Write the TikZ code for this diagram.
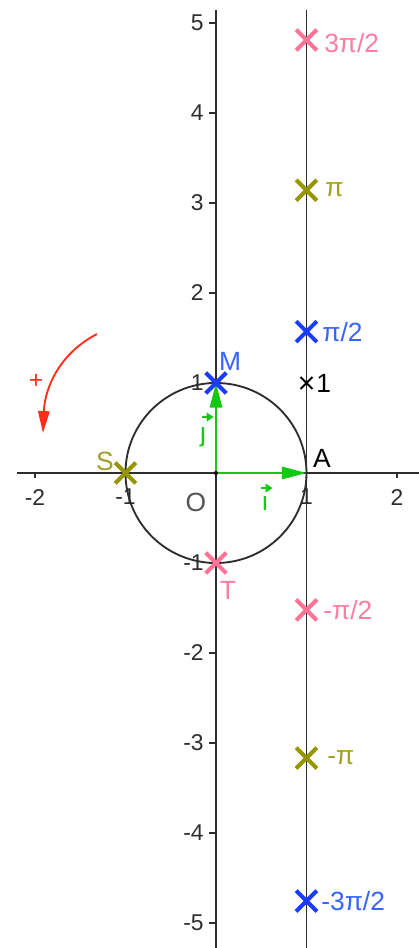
\documentclass[tikz,border=0pt]{standalone}
\usepackage{fontspec}
\setmainfont{Liberation Sans}
\usetikzlibrary{shapes.misc,arrows.meta}
\definecolor{axisc}{RGB}{45,45,45}
\definecolor{xblue}{RGB}{25,60,255}
\definecolor{lblue}{RGB}{55,100,255}
\definecolor{xpink}{RGB}{255,115,150}
\definecolor{lpink}{RGB}{255,125,160}
\definecolor{xolive}{RGB}{150,150,0}
\definecolor{lolive}{RGB}{160,160,40}
\definecolor{vgreen}{RGB}{20,200,20}
\definecolor{rred}{RGB}{255,45,25}
\definecolor{ogray}{RGB}{85,85,85}
\begin{document}
\begin{tikzpicture}[x=1.81cm,y=1.8cm,
  axis/.style={draw=axisc,line width=0.95pt},
  num/.style={font=\fontsize{13}{15}\selectfont, text=axisc, inner sep=0pt},
  lab/.style={font=\fontsize{15}{18}\selectfont, inner sep=0pt},
  bigx/.style={cross out, draw, line width=2.3pt, minimum size=9.5pt, inner sep=0pt},
  smallx/.style={cross out, draw=black, line width=1.2pt, minimum size=5.5pt, inner sep=0pt},
  vec/.style={draw=vgreen, line width=1.2pt, -{Triangle[length=14pt,width=7pt]}},
  tinyarrow/.style={draw=vgreen, line width=1.4pt, -{Triangle[length=4pt,width=5pt]}},
]
\useasboundingbox[fill=white] (-2.3867,-5.2778) rectangle (2.2431,5.2556);

% axis end points
\coordinate (xl) at (-2.199,0);
\coordinate (xr) at (2.2431,0);
\coordinate (yt) at (0,5.144);
\coordinate (yb) at (0,-5.2778);
\coordinate (Lt) at (1,5.144);
\coordinate (Lb) at (1,-5.2778);
\coordinate (O) at (0,0);
\coordinate (A) at (1,0);
\coordinate (Mc) at (0,1);

% tick labels
\foreach \v in {-2,-1,1,2} \node[num] (xt\v) at (\v,-0.267) {\v};
\foreach \v in {-5,-4,-3,-2,-1,1,2,3,4,5} \node[num,anchor=east] (yt\v) at (-0.133,\v) {\v};

% axes and ticks
\draw[axis] (xl) -- (xr);
\draw[axis] (yt) -- (yb);
\foreach \v in {-2,-1,1,2} \draw[axis] (\v,0) -- (\v,-0.06);
\foreach \v in {-5,-4,-3,-2,-1,1,2,3,4,5} \draw[axis] (0,\v) -- (-0.077,\v);

% circle and tangent line
\draw[draw=axisc,line width=1.05pt] (O) circle[x radius=1, y radius=1];
\draw[axis] (Lt) -- (Lb);

% vectors
\draw[vec] (O) -- (A);
\draw[vec] (O) -- (Mc);
\fill[black] (O) circle[radius=1.2pt];

% rotation arrow
\coordinate (r1) at (-1.315,1.544);
\coordinate (r2) at (-1.912,0.444);
\draw[rred,line width=1.05pt,-{Triangle[length=12.5pt,width=6.5pt]}] (r1) .. controls (-1.702,1.344) and (-1.890,0.978) .. (r2);
\node[lab,text=rred,font=\fontsize{14}{16}\selectfont] (plus) at (-1.989,1.022) {+};

% points on circle
\node[bigx,draw=xblue] (M) at (0,1) {};
\node[bigx,draw=xolive] (S) at (-1,0) {};
\node[bigx,draw=xpink] (T) at (0,-1) {};

% points on tangent line
\node[bigx,draw=xpink] (p3) at (1,4.811) {};
\node[bigx,draw=xolive] (p2) at (1,3.1416) {};
\node[bigx,draw=xblue] (p1) at (1,1.5708) {};
\node[smallx] (p0) at (1,1) {};
\node[bigx,draw=xpink] (m1) at (1,-1.522) {};
\node[bigx,draw=xolive] (m2) at (1,-3.167) {};
\node[bigx,draw=xblue] (m3) at (1,-4.756) {};

% labels
\node[lab,text=lblue] (Ml) at (0.155,1.244) {M};
\node[lab,text=lolive] (Sl) at (-1.227,0.133) {S};
\node[lab,text=black] (Al) at (1.171,0.167) {A};
\node[lab,text=lpink] (Tl) at (0.133,-1.3) {T};
\node[lab,text=ogray] (Ol) at (-0.221,-0.322) {O};

% vector names i and j with small arrows
\node[lab,text=vgreen] (il) at (0.541,-0.344) {ı};
\coordinate (ia1) at (0.497,-0.167);
\coordinate (ia2) at (0.625,-0.167);
\draw[tinyarrow] (ia1) -- (ia2);
\node[lab,text=vgreen] (jl) at (-0.144,0.40) {ȷ};
\coordinate (ja1) at (-0.155,0.622);
\coordinate (ja2) at (-0.027,0.622);
\draw[tinyarrow] (ja1) -- (ja2);

\node[lab,text=lpink,anchor=west] at (1.193,4.778) {3π/2};
\node[lab,text=lolive,anchor=west] at (1.204,3.144) {π};
\node[lab,text=lblue,anchor=west] at (1.171,1.567) {π/2};
\node[lab,text=black,anchor=west] at (1.105,1.0) {1};
\node[lab,text=lpink,anchor=west] at (1.182,-1.522) {-π/2};
\node[lab,text=lolive,anchor=west] at (1.227,-3.167) {-π};
\node[lab,text=lblue,anchor=west] at (1.160,-4.756) {-3π/2};
\end{tikzpicture}
\end{document}
